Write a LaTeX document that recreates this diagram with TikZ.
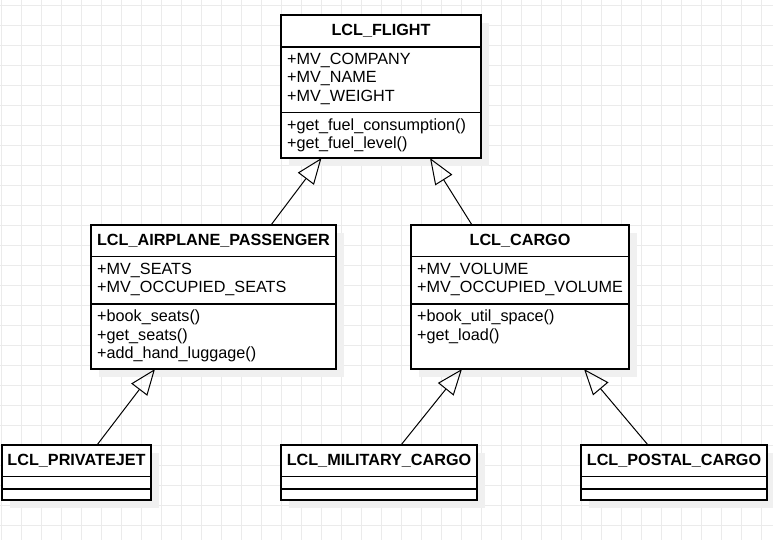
\documentclass[tikz,border=0pt]{standalone}
\usepackage{fontspec}
\setmainfont{Liberation Sans}
\usetikzlibrary{arrows.meta,shadows}
\begin{document}
\begin{tikzpicture}[x=1pt,y=-1pt,
  gridline/.style={draw=black!8, line width=1pt},
  classbox/.style={draw=black, line width=1.3pt, fill=white, rectangle, inner sep=0pt, outer sep=0pt,
    drop shadow={shadow xshift=8pt, shadow yshift=-8pt, fill=black!6, opacity=1}},
  divider/.style={draw=black, line width=1.3pt},
  title/.style={font=\bfseries\fontsize{16.2}{19}\selectfont, anchor=base, inner sep=0pt},
  member/.style={font=\fontsize{16.2}{19}\selectfont, anchor=base west, inner sep=0pt},
  inherit/.style={draw=black, line width=1pt, -{Triangle[open, length=26pt, width=20pt]}}
]
\useasboundingbox (0,0) rectangle (773,540);
\fill[white] (0,0) rectangle (773,540);
\foreach \i in {0,...,38} \draw[gridline] (1.3+20*\i,0) -- (1.3+20*\i,540);
\foreach \j in {0,...,26} \draw[gridline] (0,5.3+20*\j) -- (773,5.3+20*\j);

% class boxes
\node[classbox, minimum width=200pt, minimum height=143pt] (flight) at (381,86.5) {};
\node[classbox, minimum width=245pt, minimum height=144pt] (pass) at (213.5,297) {};
\node[classbox, minimum width=218pt, minimum height=144pt] (cargo) at (520,297) {};
\node[classbox, minimum width=149pt, minimum height=55pt] (jet) at (76.5,472.5) {};
\node[classbox, minimum width=196pt, minimum height=55pt] (mil) at (379,472.5) {};
\node[classbox, minimum width=186pt, minimum height=55pt] (postal) at (674,472.5) {};

% dividers
\draw[divider] ([yshift=-32pt]flight.north west) -- ([yshift=-32pt]flight.north east);
\draw[divider] ([yshift=-97.7pt]flight.north west) -- ([yshift=-97.7pt]flight.north east);
\draw[divider] ([yshift=-31.7pt]pass.north west) -- ([yshift=-31.7pt]pass.north east);
\draw[divider] ([yshift=-79pt]pass.north west) -- ([yshift=-79pt]pass.north east);
\draw[divider] ([yshift=-31.7pt]cargo.north west) -- ([yshift=-31.7pt]cargo.north east);
\draw[divider] ([yshift=-79pt]cargo.north west) -- ([yshift=-79pt]cargo.north east);
\draw[divider] ([yshift=-31.3pt]jet.north west) -- ([yshift=-31.3pt]jet.north east);
\draw[divider] ([yshift=-44pt]jet.north west) -- ([yshift=-44pt]jet.north east);
\draw[divider] ([yshift=-31.3pt]mil.north west) -- ([yshift=-31.3pt]mil.north east);
\draw[divider] ([yshift=-44pt]mil.north west) -- ([yshift=-44pt]mil.north east);
\draw[divider] ([yshift=-31.3pt]postal.north west) -- ([yshift=-31.3pt]postal.north east);
\draw[divider] ([yshift=-44pt]postal.north west) -- ([yshift=-44pt]postal.north east);

% texts: LCL_FLIGHT
\node[title] (tflight) at (381,35.8) {LCL\_FLIGHT};
\node[member] (f1) at (287,64.3) {+MV\_COMPANY};
\node[member] (f2) at (287,83) {+MV\_NAME};
\node[member] (f3) at (287,101.7) {+MV\_WEIGHT};
\node[member] (f4) at (287,131) {+get\_fuel\_consumption()};
\node[member] (f5) at (287,149) {+get\_fuel\_level()};

% LCL_AIRPLANE_PASSENGER
\node[title] (tpass) at (213.5,245.8) {LCL\_AIRPLANE\_PASSENGER};
\node[member] (p1) at (97,274) {+MV\_SEATS};
\node[member] (p2) at (97,292.7) {+MV\_OCCUPIED\_SEATS};
\node[member] (p3) at (97,321.7) {+book\_seats()};
\node[member] (p4) at (97,340) {+get\_seats()};
\node[member] (p5) at (97,358.3) {+add\_hand\_luggage()};

% LCL_CARGO
\node[title] (tcargo) at (520,245.8) {LCL\_CARGO};
\node[member] (c1) at (417,274) {+MV\_VOLUME};
\node[member] (c2) at (417,292.7) {+MV\_OCCUPIED\_VOLUME};
\node[member] (c3) at (417,321.7) {+book\_util\_space()};
\node[member] (c4) at (417,340) {+get\_load()};

% small classes
\node[title] (tjet) at (76.5,465.7) {LCL\_PRIVATEJET};
\node[title] (tmil) at (379,465.7) {LCL\_MILITARY\_CARGO};
\node[title] (tpostal) at (674,465.7) {LCL\_POSTAL\_CARGO};

% inheritance connectors
\draw[inherit] ([xshift=180pt]pass.north west) -- ([xshift=40.5pt]flight.south west);
\draw[inherit] ([xshift=61pt]cargo.north west) -- ([xshift=149pt]flight.south west);
\draw[inherit] ([xshift=95pt]jet.north west) -- ([xshift=64pt]pass.south west);
\draw[inherit] ([xshift=120pt]mil.north west) -- ([xshift=51pt]cargo.south west);
\draw[inherit] ([xshift=67pt]postal.north west) -- ([xshift=173pt]cargo.south west);
\end{tikzpicture}
\end{document}
